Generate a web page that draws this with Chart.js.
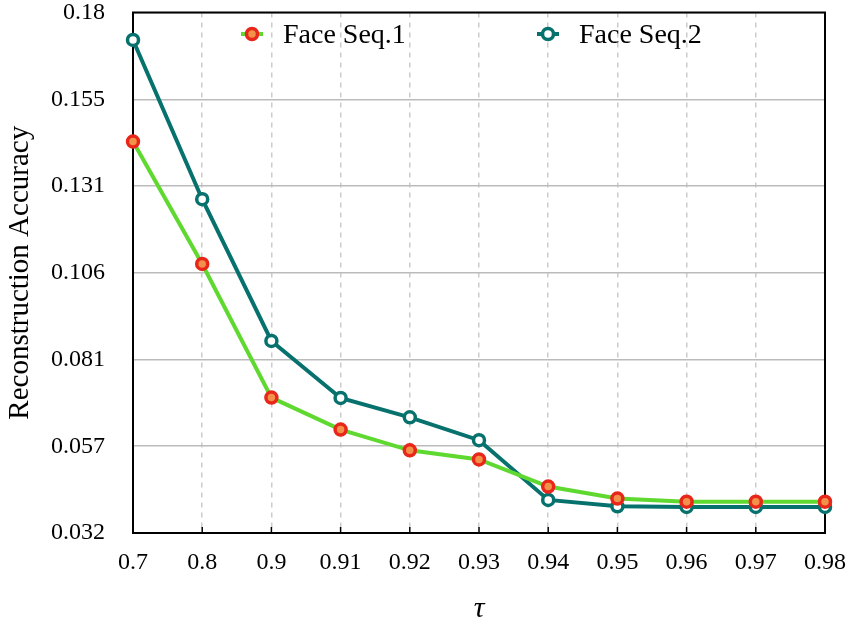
<!DOCTYPE html>
<html>
<head>
<meta charset="utf-8">
<script src="https://cdn.jsdelivr.net/npm/chart.js@4/dist/chart.umd.min.js"></script>
<style>
  html, body { margin: 0; padding: 0; background: #fff; }
  #wrap { width: 853px; height: 630px; }
</style>
</head>
<body>
<div id="wrap"><canvas id="chart" width="853" height="630"></canvas></div>
<script>
// tau values on the x axis
const tauLabels = ['0.7', '0.8', '0.9', '0.91', '0.92', '0.93', '0.94', '0.95', '0.96', '0.97', '0.98'];

// reconstruction accuracy
const faceSeq1 = [0.1433, 0.1085, 0.0705, 0.0614, 0.0555, 0.0529, 0.0452, 0.0418, 0.0409, 0.0409, 0.0409];
const faceSeq2 = [0.1722, 0.1269, 0.0866, 0.0704, 0.0649, 0.0584, 0.0414, 0.0396, 0.0394, 0.0394, 0.0394];

// y ticks (evenly spaced between 0.032 and 0.18)
const yTickValues = [0.032, 0.05667, 0.08133, 0.106, 0.13067, 0.15533, 0.18];
const yTickLabels = ['0.032', '0.057', '0.081', '0.106', '0.131', '0.155', '0.18'];

const SERIF = '"Liberation Serif", "DejaVu Serif", serif';

// frame around the plot area + inward ticks on the bottom axis
const framePlugin = {
  id: 'frame',
  beforeDatasetsDraw(chart) {
    const { ctx, chartArea: a, scales } = chart;
    ctx.save();
    ctx.strokeStyle = '#000';
    ctx.lineWidth = 1.5;
    scales.x.ticks.forEach((t, i) => {
      const px = scales.x.getPixelForTick(i);
      ctx.beginPath();
      ctx.moveTo(px, a.bottom);
      ctx.lineTo(px, a.bottom - 6);
      ctx.stroke();
    });
    ctx.lineWidth = 2;
    ctx.strokeRect(a.left, a.top, a.right - a.left, a.bottom - a.top);
    ctx.restore();
  }
};

// legend drawn inside the plot area, on top of the grid
const innerLegend = {
  id: 'innerLegend',
  afterDraw(chart) {
    const { ctx } = chart;
    const spots = [{ x: 252, y: 34 }, { x: 548, y: 34 }];
    ctx.save();
    chart.data.datasets.forEach((ds, i) => {
      const s = spots[i];
      ctx.strokeStyle = ds.borderColor;
      ctx.lineWidth = 4;
      ctx.beginPath();
      ctx.moveTo(s.x - 11, s.y);
      ctx.lineTo(s.x + 11, s.y);
      ctx.stroke();
      ctx.beginPath();
      ctx.arc(s.x, s.y, ds.pointRadius, 0, Math.PI * 2);
      ctx.fillStyle = ds.pointBackgroundColor;
      ctx.fill();
      ctx.lineWidth = ds.pointBorderWidth;
      ctx.strokeStyle = ds.pointBorderColor;
      ctx.stroke();
      ctx.fillStyle = '#000';
      ctx.font = '28px ' + SERIF;
      ctx.textBaseline = 'middle';
      ctx.fillText(ds.label, s.x + 31, s.y + 2);
    });
    ctx.restore();
  }
};

new Chart(document.getElementById('chart'), {
  type: 'line',
  data: {
    labels: tauLabels,
    datasets: [
      {
        label: 'Face Seq.1',
        data: faceSeq1,
        borderColor: '#5fd930',
        borderWidth: 4,
        pointRadius: 5.5,
        pointBorderWidth: 3.5,
        pointBackgroundColor: '#f2924a',
        pointBorderColor: '#e8261a',
        tension: 0,
        clip: false
      },
      {
        label: 'Face Seq.2',
        data: faceSeq2,
        borderColor: '#07726d',
        borderWidth: 4,
        pointRadius: 5.5,
        pointBorderWidth: 3.5,
        pointBackgroundColor: '#ffffff',
        pointBorderColor: '#07726d',
        tension: 0,
        clip: false
      }
    ]
  },
  options: {
    responsive: false,
    animation: false,
    layout: { padding: { left: 0, right: 28, top: 12.5, bottom: 0 } },
    plugins: {
      legend: { display: false },
      tooltip: { enabled: false }
    },
    scales: {
      x: {
        type: 'category',
        offset: false,
        grid: {
          color: '#cccccc',
          lineWidth: 1.5,
          drawTicks: false
        },
        border: { display: false, dash: [5, 5] },
        ticks: {
          color: '#000',
          font: { family: SERIF, size: 24 },
          padding: 15,
          maxRotation: 0,
          autoSkip: false
        },
        title: {
          display: true,
          text: 'τ',
          color: '#000',
          font: { family: SERIF, size: 30, style: 'italic' },
          padding: { top: 0, bottom: 3 }
        },
        afterFit(scale) {
          scale.height = 97;
          scale.paddingLeft = 0;
          scale.paddingRight = 0;
        }
      },
      y: {
        min: 0.032,
        max: 0.18,
        grid: {
          color: '#bbbbbb',
          lineWidth: 1.5,
          drawTicks: false
        },
        border: { display: false },
        afterBuildTicks(scale) {
          scale.ticks = yTickValues.map(v => ({ value: v }));
        },
        ticks: {
          color: '#000',
          font: { family: SERIF, size: 24 },
          padding: 28,
          callback: (v, i) => yTickLabels[i]
        },
        title: {
          display: true,
          text: 'Reconstruction Accuracy',
          color: '#000',
          font: { family: SERIF, size: 29 },
          padding: { top: 3, bottom: 0 }
        },
        afterFit(scale) {
          scale.width = 133;
          scale.paddingTop = 0;
          scale.paddingBottom = 0;
        }
      }
    }
  },
  plugins: [framePlugin, innerLegend]
});
</script>
</body>
</html>
